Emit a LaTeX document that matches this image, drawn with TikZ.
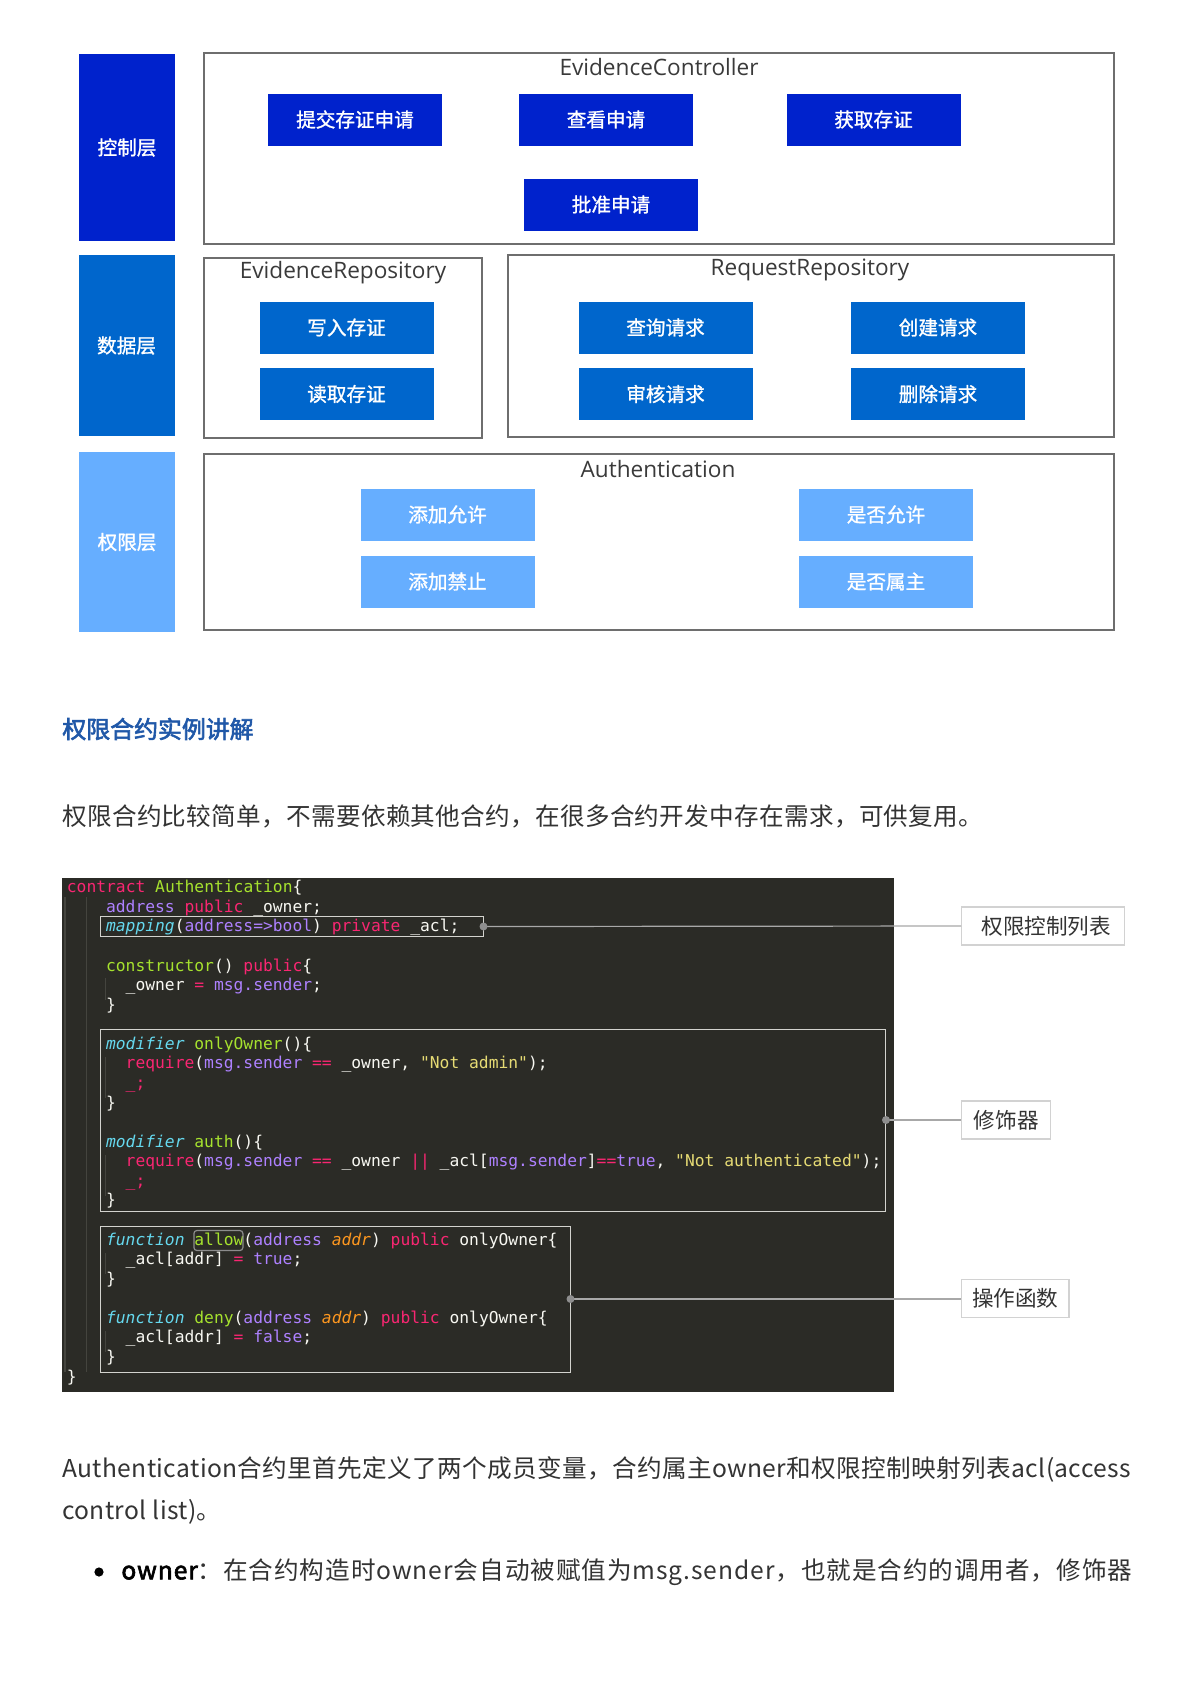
\documentclass[tikz,border=0pt]{standalone}
\usepackage{fontspec}
\setmainfont{Noto Sans CJK SC}[AutoFakeBold=2.5]
\newfontfamily\enfont{Open Sans}
\newfontfamily\btnfont{Noto Sans CJK SC}[FakeBold=1.2]
\setmonofont{DejaVu Sans Mono}
\definecolor{layA}{HTML}{0022CC}
\definecolor{layB}{HTML}{0066CC}
\definecolor{layC}{HTML}{66AEFF}
\definecolor{framegrey}{HTML}{6E6E6E}
\definecolor{titlegrey}{HTML}{3A3A3A}
\definecolor{codebg}{HTML}{2B2B26}
\definecolor{guidecol}{HTML}{44443E}
\definecolor{mkpink}{HTML}{F92672}
\definecolor{mkpurple}{HTML}{AE81FF}
\definecolor{mkgreen}{HTML}{A6E22E}
\definecolor{mkcyan}{HTML}{66D9EF}
\definecolor{mkyellow}{HTML}{E6DB74}
\definecolor{mkorange}{HTML}{FD971F}
\definecolor{mkwhite}{HTML}{F8F8F2}
\definecolor{headblue}{HTML}{2058A8}
\definecolor{bodytext}{HTML}{333333}
\definecolor{lblborder}{HTML}{D2D2D2}
\definecolor{connline}{HTML}{A8A8A8}
\definecolor{dotgrey}{HTML}{8E8E8E}
\newcommand\cPk[1]{\textcolor{mkpink}{#1}}
\newcommand\cPu[1]{\textcolor{mkpurple}{#1}}
\newcommand\cGr[1]{\textcolor{mkgreen}{#1}}
\newcommand\cCy[1]{\textcolor{mkcyan}{\itshape #1}}
\newcommand\cYe[1]{\textcolor{mkyellow}{#1}}
\newcommand\cOr[1]{\textcolor{mkorange}{\itshape #1}}
\begin{document}
\begin{tikzpicture}[x=0.5pt,y=-0.5pt,
  layerbox/.style={fill=#1, draw=none, minimum width=48pt, inner sep=0, text=white,
    font=\btnfont\fontsize{9.8pt}{12pt}\selectfont},
  btnbox/.style={fill=#1, draw=none, minimum width=87pt, minimum height=26pt, inner sep=0,
    text=white, font=\btnfont\fontsize{9.8pt}{12pt}\selectfont},
  container/.style={draw=framegrey, line width=1pt, inner sep=0},
  ctitle/.style={text=titlegrey, inner sep=0, font=\enfont\fontsize{11.3pt}{13pt}\selectfont},
  codeline/.style={anchor=base west, inner sep=0, text=mkwhite,
    font=\ttfamily\fontsize{8.15pt}{9.8pt}\selectfont},
  hlbox/.style={draw=mkwhite!85!black, line width=0.5pt, inner sep=0},
  guide/.style={draw=guidecol, line width=0.6pt},
  lblbox/.style={draw=lblborder, line width=0.6pt, fill=white, inner sep=0, minimum height=19pt,
    text=bodytext, font=\fontsize{10.8pt}{13pt}\selectfont},
  conn/.style={draw=connline, line width=0.6pt},
  bodyline/.style={anchor=west, inner sep=0, text=bodytext,
    font=\fontsize{12.3pt}{15pt}\selectfont\addfontfeature{LetterSpace=#1}},
  bodyline/.default=0
]
\useasboundingbox[fill=white] (0,0) rectangle (1190,1683);

% ---------- layer labels ----------
\node[layerbox=layA, minimum height=93.5pt] (lctrl) at (127,147.5) {控制层};
\node[layerbox=layB, minimum height=90.5pt] (ldata) at (126.5,345.5) {数据层};
\node[layerbox=layC, minimum height=90pt] (lauth) at (127,542) {权限层};

% ---------- containers ----------
\node[container, minimum width=455pt, minimum height=95.5pt] (ec) at (659,148.5) {};
\node[container, minimum width=139pt, minimum height=90pt] (er) at (343,348) {};
\node[container, minimum width=303pt, minimum height=91pt] (rr) at (811,346) {};
\node[container, minimum width=455pt, minimum height=88pt] (au) at (659,542) {};

\node[ctitle] (ect) at (659,67) {EvidenceController};
\node[ctitle] (ert) at (343,273) {EvidenceRepository};
\node[ctitle] (rrt) at (810,270) {RequestRepository};
\node[ctitle] (aut) at (658,469) {Authentication};

% ---------- buttons ----------
\node[btnbox=layA] (b1) at (355,119.5) {提交存证申请};
\node[btnbox=layA] (b2) at (606,119.5) {查看申请};
\node[btnbox=layA] (b3) at (873.5,119.5) {获取存证};
\node[btnbox=layA] (b4) at (611,204.5) {批准申请};

\node[btnbox=layB] (d1) at (346.5,327.5) {写入存证};
\node[btnbox=layB] (d2) at (346.5,394) {读取存证};
\node[btnbox=layB] (d3) at (665.5,327.5) {查询请求};
\node[btnbox=layB] (d4) at (665.5,394) {审核请求};
\node[btnbox=layB] (d5) at (938,327.5) {创建请求};
\node[btnbox=layB] (d6) at (938,394) {删除请求};

\node[btnbox=layC] (a1) at (447.5,514.5) {添加允许};
\node[btnbox=layC] (a2) at (447.5,581.5) {添加禁止};
\node[btnbox=layC] (a3) at (886,514.5) {是否允许};
\node[btnbox=layC] (a4) at (886,581.5) {是否属主};

% ---------- text ----------
\node[anchor=west, inner sep=0, text=headblue, font=\fontsize{11.95pt}{14pt}\selectfont\bfseries] (head) at (62,729) {权限合约实例讲解};
\node[bodyline=1.2] (p1) at (62,816) {权限合约比较简单，不需要依赖其他合约，在很多合约开发中存在需求，可供复用。};

% ---------- code block ----------
\node[fill=codebg, draw=none, inner sep=0, minimum width=416pt, minimum height=257pt] (codebg) at (478,1135) {};
\draw[guide] (65,897) -- (65,1372);
\draw[guide] (86.5,897) -- (86.5,1372);
\draw[guide] (105.7,978) -- (105.7,1000);
\draw[guide] (105.7,1057) -- (105.7,1098);
\draw[guide] (105.7,1155) -- (105.7,1196);
\draw[guide] (105.7,1253) -- (105.7,1274);
\draw[guide] (105.7,1331) -- (105.7,1352);

\begin{scope}[yshift=-0.6pt]
\node[codeline] (L0) at (66.5,891.5) {\cPk{contract} \cGr{Authentication}\{};
\node[codeline] (L1) at (105.7,911.1) {\cPu{address} \cPk{public} \_owner;};
\node[codeline] (L2) at (105.7,930.6) {\cCy{mapping}(\cPu{address=>bool}) \cPk{private} \_acl;};
\node[codeline] (L4) at (105.7,969.8) {\cGr{constructor}() \cPk{public}\{};
\node[codeline] (L5) at (125.3,989.4) {\_owner \cPk{=} \cPu{msg.sender};};
\node[codeline] (L6) at (105.7,1008.9) {\}};
\node[codeline] (L8) at (105.7,1048.1) {\cCy{modifier} \cGr{onlyOwner}()\{};
\node[codeline] (L9) at (125.3,1067.6) {\cPk{require}(\cPu{msg.sender} \cPk{==} \_owner, \cYe{"Not admin"});};
\node[codeline] (L10) at (125.3,1087.2) {\cPk{\_;}};
\node[codeline] (L11) at (105.7,1106.8) {\}};
\node[codeline] (L13) at (105.7,1145.9) {\cCy{modifier} \cGr{auth}()\{};
\node[codeline] (L14) at (125.3,1165.5) {\cPk{require}(\cPu{msg.sender} \cPk{==} \_owner \cPk{||} \_acl[\cPu{msg.sender}]\cPk{==}\cPu{true}, \cYe{"Not authenticated"});};
\node[codeline] (L15) at (125.3,1185.1) {\cPk{\_;}};
\node[codeline] (L16) at (105.7,1204.6) {\}};
\node[codeline] (L18) at (105.7,1243.8) {\cCy{function} \cGr{allow}(\cPu{address} \cOr{addr}) \cPk{public} onlyOwner\{};
\node[codeline] (L19) at (125.3,1263.3) {\_acl[addr] \cPk{=} \cPu{true};};
\node[codeline] (L20) at (105.7,1282.9) {\}};
\node[codeline] (L22) at (105.7,1322.0) {\cCy{function} \cGr{deny}(\cPu{address} \cOr{addr}) \cPk{public} onlyOwner\{};
\node[codeline] (L23) at (125.3,1341.6) {\_acl[addr] \cPk{=} \cPu{false};};
\node[codeline] (L24) at (105.7,1361.2) {\}};
\node[codeline] (L25) at (66.5,1380.8) {\}};
\end{scope}

\node[draw=white!55!black, rounded corners=1.5pt, line width=0.6pt, inner sep=0,
  minimum width=24.5pt, minimum height=10pt] (allowbox) at (218.4,1240.5) {};

\node[hlbox, minimum width=191.5pt, minimum height=10pt] (mapbox) at (291.5,926.5) {};
\node[hlbox, minimum width=392.75pt, minimum height=91pt] (modbox) at (492.75,1120) {};
\node[hlbox, minimum width=235pt, minimum height=73pt] (funbox) at (335,1299) {};

% ---------- labels ----------
\node[lblbox, minimum width=81.5pt] (lab1) at (1043.3,926) {\hspace*{3pt}权限控制列表};
\node[lblbox, minimum width=44.5pt] (lab2) at (1006.2,1120) {修饰器};
\node[lblbox, minimum width=53.7pt] (lab3) at (1015.3,1298.5) {操作函数};

\draw[conn] (mapbox.east) -- (lab1.west);
\draw[conn] (modbox.east) -- (modbox.east -| lab2.west);
\draw[conn] (funbox.east) -- (funbox.east -| lab3.west);
\fill[dotgrey] (mapbox.east) circle[radius=2pt];
\fill[dotgrey] (modbox.east) circle[radius=2pt];
\fill[dotgrey] (funbox.east) circle[radius=2pt];

% ---------- bottom text ----------
\node[bodyline=1.5] (p2a) at (62,1469) {Authentication合约里首先定义了两个成员变量，合约属主owner和权限控制映射列表acl(access};
\node[bodyline=1.5] (p2b) at (62,1512) {control list)。};
\fill[black] (99,1572) circle[radius=2.3pt];
\node[bodyline=3.8] (p3) at (121,1572) {\textcolor{black}{\bfseries owner}：在合约构造时owner会自动被赋值为msg.sender，也就是合约的调用者，修饰器};
\end{tikzpicture}
\end{document}
